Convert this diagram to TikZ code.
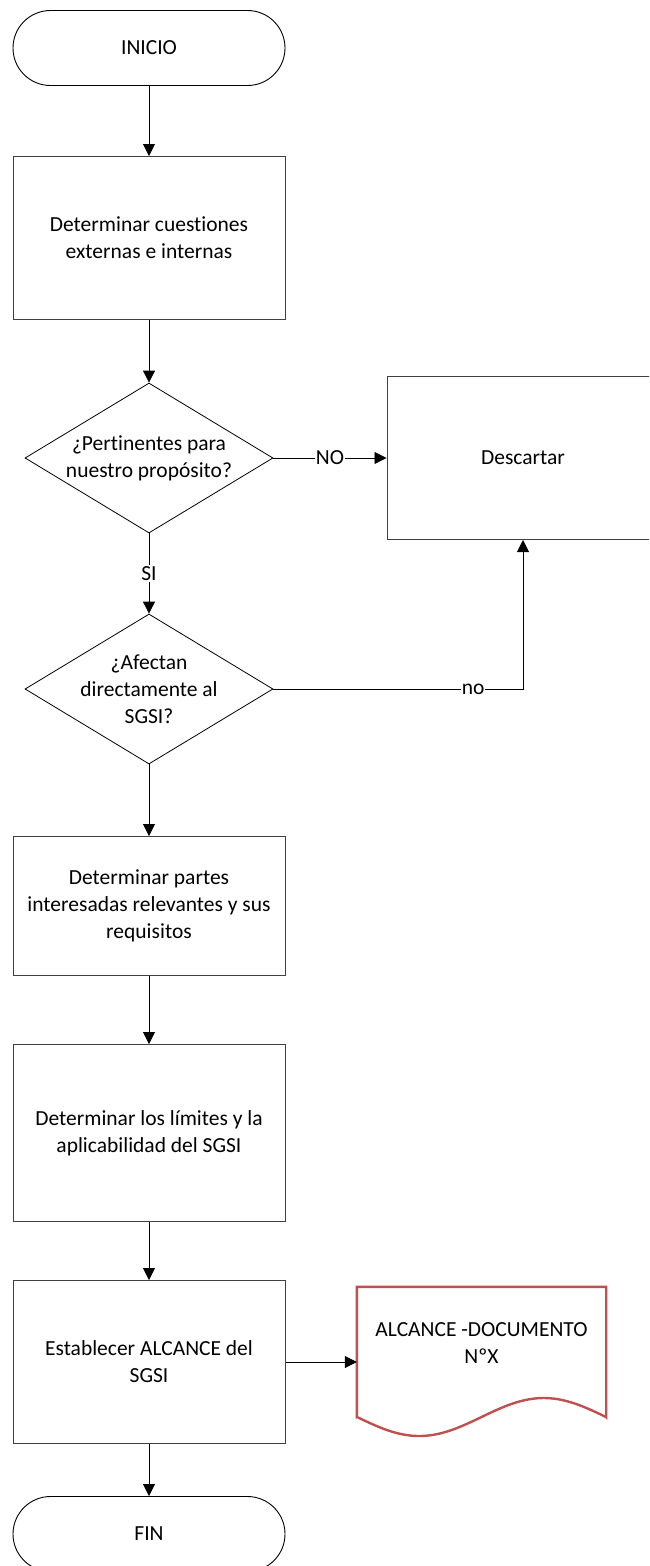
\documentclass[tikz,border=0pt]{standalone}
\usepackage{fontspec}
\setmainfont{Carlito}[Ligatures=NoCommon]
\usetikzlibrary{arrows.meta,shapes.geometric,shapes.misc}

\definecolor{docred}{HTML}{C0504D}
\definecolor{edgegray}{HTML}{404040}

\tikzset{
  txt/.style={font=\fontsize{21.5}{27}\selectfont, align=center},
  terminal/.style={rounded rectangle, draw=black, line width=0.9pt,
    minimum width=272pt, minimum height=75pt, inner sep=0pt, txt},
  procbox/.style={rectangle, draw=edgegray, line width=1pt,
    minimum width=272pt, minimum height=163pt, inner sep=0pt, txt},
  decision/.style={diamond, draw=black, line width=0.8pt,
    minimum width=248pt, minimum height=150pt, inner sep=0pt},
  arr/.style={draw=black, line width=0.8pt,
    -{Triangle[length=12pt,width=12pt]}},
  lbl/.style={txt, fill=white, inner sep=1pt},
}

\begin{document}
\begin{tikzpicture}[x=1pt, y=-1pt]
\useasboundingbox (0,0) rectangle (649,1566);
\clip (0,0) rectangle (649,1566);

% main column
\node[terminal] (ini) at (149,48) {INICIO};
\node[procbox] (b1) at (149,238) {Determinar cuestiones\\externas e internas};
\node[decision] (d1) at (149,458) {};
\node[txt] (d1t) at (d1.center) {¿Pertinentes para\\nuestro propósito?};
\node[decision] (d2) at (149,689) {};
\node[txt] (d2t) at (d2.center) {¿Afectan\\directamente al\\SGSI?};
\node[procbox, minimum height=139pt] (b3) at (149,906) {Determinar partes\\interesadas relevantes y sus\\requisitos};
\node[procbox, minimum height=177pt] (b4) at (149,1133) {Determinar los límites y la\\aplicabilidad del SGSI};
\node[procbox] (b5) at (149,1362) {Establecer ALCANCE del\\SGSI};
\node[terminal] (fin) at (149,1534) {FIN};

% side column
\node[procbox] (desc) at (523,458) {Descartar};

% document symbol: straight top and sides, wavy bottom
\node[rectangle, minimum width=249pt, minimum height=130pt, inner sep=0pt]
  (doc) at (481.5,1352) {};
\node[txt] (doct) at ([yshift=9pt]doc.center) {ALCANCE -DOCUMENTO\\NºX};
\draw[docred, line width=2.4pt, line join=miter]
  (doc.south west) -- (doc.north west) -- (doc.north east) -- (doc.south east)
  -- plot[domain=1:0, samples=80, smooth] ({357+249*\x}, {1417+19*sin(360*\x)}) -- cycle;

% connectors
\draw[arr] (ini) -- (b1);
\draw[arr] (b1) -- (d1);
\draw[arr] (d1.east) -- node[lbl] {NO} (desc.west);
\draw[arr] (d1.south) -- node[lbl] {SI} (d2.north);
\draw[arr] (d2.east) -| node[lbl, pos=0.4] {no} (desc.south);
\draw[arr] (d2.south) -- (b3.north);
\draw[arr] (b3) -- (b4);
\draw[arr] (b4) -- (b5);
\draw[arr] (b5.east) -- (b5.east -| doc.west);
\draw[arr] (b5) -- (fin);
\end{tikzpicture}
\end{document}
